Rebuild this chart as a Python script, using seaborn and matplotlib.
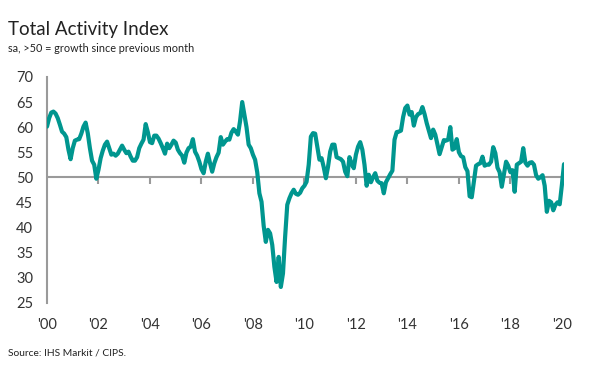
import numpy as np
import pandas as pd
import matplotlib
matplotlib.use('Agg')
import matplotlib.pyplot as plt
import seaborn as sns

#-------------------------------------------------------
# monthly index values, Jan 2000 .. Feb 2020
v2000=[60.1, 61.8, 62.9, 63.1, 62.7, 61.8, 60.5, 59.1, 58.7, 58.0, 55.5, 53.6]
v2001=[55.8, 57.3, 57.5, 57.6, 58.7, 60.1, 60.9, 58.8, 55.8, 53.3, 52.5, 49.7]
v2002=[51.5, 53.8, 55.3, 56.5, 57.1, 55.8, 54.5, 54.7, 54.3, 54.7, 55.5, 56.3]
v2003=[55.5, 54.8, 55.1, 54.1, 53.3, 53.3, 54.0, 55.8, 56.7, 57.5, 60.6, 59.0]
v2004=[57.0, 56.8, 58.3, 58.3, 57.7, 56.8, 55.8, 54.7, 56.7, 55.8, 56.5, 57.3]
v2005=[56.9, 55.5, 54.8, 54.3, 52.9, 54.9, 55.8, 56.1, 57.6, 55.1, 54.3, 53.1]
v2006=[51.6, 50.8, 53.1, 54.7, 52.8, 51.1, 52.8, 54.0, 54.9, 58.0, 56.5, 57.1]
v2007=[57.6, 57.5, 58.9, 59.6, 59.1, 58.5, 61.2, 65.0, 62.5, 60.0, 56.5, 55.8]
v2008=[54.5, 53.5, 51.0, 46.8, 45.1, 40.3, 37.1, 39.5, 38.8, 36.5, 32.1, 29.1]
v2009=[34.1, 28.1, 30.8, 38.1, 44.5, 45.8, 46.8, 47.5, 46.7, 46.5, 46.9, 47.8]
v2010=[48.3, 49.1, 52.5, 58.1, 58.8, 58.7, 56.1, 53.5, 53.8, 52.0, 49.8, 52.1]
v2011=[55.1, 56.5, 56.5, 54.0, 53.8, 53.6, 53.1, 51.1, 50.2, 54.0, 52.7, 51.8]
v2012=[54.5, 56.1, 57.0, 55.5, 52.5, 48.3, 50.5, 49.0, 50.0, 50.8, 49.3, 48.9]
v2013=[48.8, 46.8, 49.0, 49.8, 50.6, 51.3, 57.5, 59.0, 59.1, 59.3, 62.0, 63.8]
v2014=[64.3, 62.5, 63.0, 60.3, 62.0, 62.6, 62.8, 64.0, 62.6, 60.8, 59.3, 57.8]
v2015=[59.5, 58.5, 56.5, 54.6, 56.0, 57.4, 57.3, 57.5, 60.0, 55.5, 55.8, 57.6]
v2016=[55.0, 54.2, 54.0, 52.0, 51.2, 46.2, 46.0, 49.2, 52.3, 52.6, 52.8, 54.1]
v2017=[52.3, 52.5, 52.5, 53.1, 56.0, 54.8, 51.9, 51.0, 48.1, 50.6, 53.1, 52.3]
v2018=[51.0, 51.4, 47.1, 52.5, 52.8, 53.1, 55.8, 52.9, 52.3, 52.9, 53.0, 52.5]
v2019=[50.4, 49.7, 50.0, 50.4, 48.3, 43.1, 45.3, 45.0, 43.4, 44.5, 45.0, 44.6]
v2020=[48.4, 52.6]

yticks=[25, 30, 35, 40, 45, 50, 55, 60, 65, 70]
xtick_lab=["'00", "'02", "'04", "'06", "'08", "'10", "'12", "'14", "'16", "'18", "'20"]

title='Total Activity Index'
subtitle='sa, >50 = growth since previous month'
source='Source: IHS Markit / CIPS.'

col_line='#00968f'
col_grey='#9a9a9a'

#-------------------------------------------------------
vals=(v2000+v2001+v2002+v2003+v2004+v2005+v2006+v2007+v2008+v2009+v2010
      +v2011+v2012+v2013+v2014+v2015+v2016+v2017+v2018+v2019+v2020)
df=pd.DataFrame({'month':np.arange(len(vals)), 'index':vals})

sns.set_style('white')
plt.rcParams['font.family']=['Lato', 'DejaVu Sans']

W, H=598, 377
fig=plt.figure(figsize=(W/100, H/100), dpi=100)
ax=fig.add_axes([47/W, 1-302.5/H, (564-47)/W, (302.5-77)/H])

#plot
sns.lineplot(data=df, x='month', y='index', ax=ax, color=col_line, lw=3,
             solid_joinstyle='round', zorder=3)
ax.axhline(50, color=col_grey, lw=1.5, zorder=2)

#adjust
ax.set_xlim(0, len(vals)-1)
ax.set_ylim(25, 70)
ax.set_yticks(yticks)
ax.tick_params(axis='y', length=7, width=1.5, color=col_grey, labelsize=10.5,
               labelcolor='#333333', pad=3)
ax.set_xticks(np.arange(0, len(vals), 24))
ax.set_xticklabels(xtick_lab)
ax.tick_params(axis='x', length=0, labelsize=10.5, labelcolor='#333333', pad=11)
for s in ['top', 'right', 'bottom']:
	ax.spines[s].set_visible(False)
ax.spines['left'].set_color(col_grey)
ax.spines['left'].set_linewidth(1.5)
ax.xaxis.label.set_visible(False)
ax.yaxis.label.set_visible(False)

#tick marks on the 50 line
sec=ax.secondary_xaxis((50-25)/(70-25))
sec.set_xticks(np.arange(24, len(vals), 24))
sec.xaxis.set_ticks_position('bottom')
sec.tick_params(length=5, width=1.5, color=col_grey, labelbottom=False, labeltop=False,
                direction='out')
for s in sec.spines.values():
	s.set_visible(False)

#texts
fig.text(8/W, 1-29/H, title, fontsize=13.5, color='#222222', va='center', ha='left')
fig.text(8/W, 1-49/H, subtitle, fontsize=7.8, color='#222222', va='center', ha='left')
fig.text(8/W, 1-353/H, source, fontsize=7.4, color='#222222', va='center', ha='left')

#save
plt.savefig('out.png', dpi=100)
plt.close()
